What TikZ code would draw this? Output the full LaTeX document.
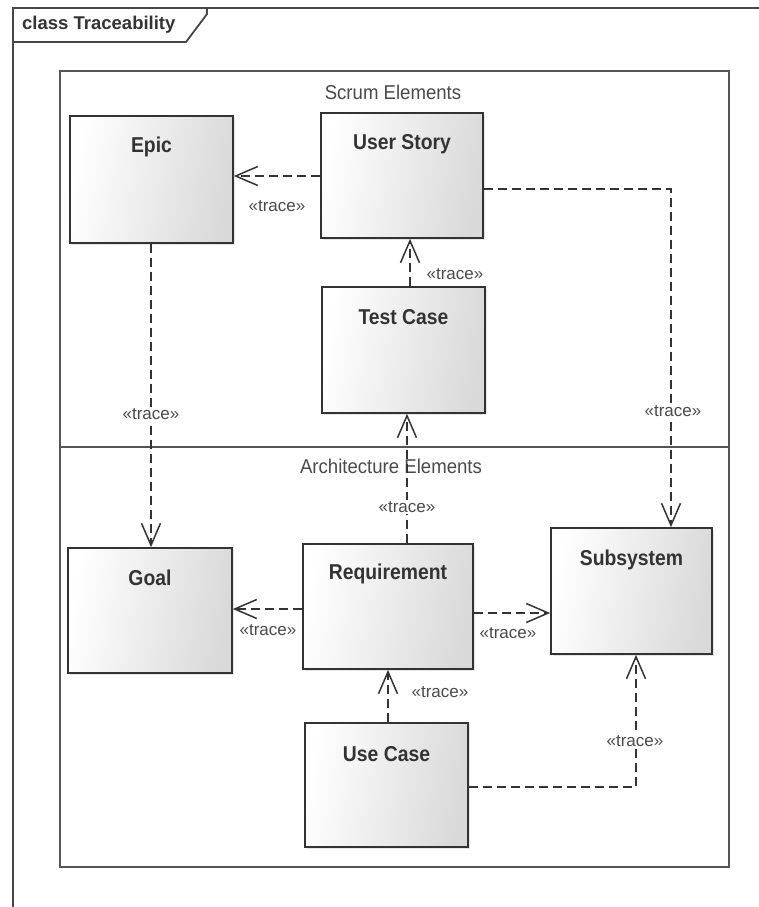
\documentclass[tikz,border=0pt]{standalone}
\usepackage{fontspec}
\setmainfont{Liberation Sans}
\newfontfamily\boxfont[FakeStretch=0.9]{Liberation Sans}
\newfontfamily\pkgfont[FakeStretch=0.93]{Liberation Sans}
\usetikzlibrary{arrows.meta,shadows}

\definecolor{edge}{HTML}{333333}
\definecolor{pkgedge}{HTML}{555555}
\definecolor{lbl}{HTML}{4A4A4A}

\tikzset{
  frameline/.style={draw=edge!90, line width=1.8pt},
  pkg/.style={draw=pkgedge, line width=1.5pt, anchor=north west, inner sep=0pt},
  pkglbl/.style={font=\pkgfont\fontsize{20}{22}\selectfont, text=lbl},
  classbox/.style={draw=edge, line width=1.7pt, left color=white, right color=black!15,
    shading angle=80,
    inner sep=0pt, drop shadow={shadow xshift=1.5pt, shadow yshift=-1.5pt, opacity=0.2}},
  boxlbl/.style={font=\boxfont\bfseries\fontsize{21.5}{24}\selectfont, text=edge},
  trace/.style={draw=edge, line width=1.6pt, dash pattern=on 9pt off 5pt,
    -{Straight Barb[length=22pt,width=19pt,line width=1.5pt]}},
  tracelbl/.style={font=\fontsize{17}{19}\selectfont, text=lbl, inner sep=1.5pt},
  onlinelbl/.style={tracelbl, fill=white}
}

\begin{document}
\begin{tikzpicture}[x=1pt,y=-1pt]
\useasboundingbox (0,0) rectangle (759,907);
\fill[white] (0,0) rectangle (759,907);

% diagram frame and its name tag
\draw[frameline] (759,8) -- (13,8) -- (13,907);
\draw[frameline] (207,8) -- (207,14) -- (186,42) -- (13,42);
\node[anchor=west, inner sep=0pt, font=\bfseries\fontsize{18.5}{20}\selectfont, text=edge]
  (title) at (22,25) {class Traceability};

% packages
\node[pkg, minimum width=669, minimum height=376] (scrum) at (59,70) {};
\node[pkg, minimum width=669, minimum height=420] (arch) at (59,446) {};
\node[pkglbl] (scrumlbl) at (393,92) {Scrum Elements};
\node[pkglbl] (archlbl) at (391,466) {Architecture Elements};

% classes
\node[classbox, minimum width=163, minimum height=127] (epic) at (151.5,179.5) {};
\node[classbox, minimum width=162, minimum height=125] (us)   at (402,175.5) {};
\node[classbox, minimum width=163, minimum height=126] (tc)   at (403.5,350) {};
\node[classbox, minimum width=164, minimum height=125] (goal) at (150,610.5) {};
\node[classbox, minimum width=170, minimum height=125] (req)  at (388,606.5) {};
\node[classbox, minimum width=161, minimum height=126] (sub)  at (631.5,591) {};
\node[classbox, minimum width=163, minimum height=124] (uc)   at (386.5,785) {};

\node[boxlbl] (epicT) at ([yshift=-32pt]epic.north) {Epic};
\node[boxlbl] (usT)   at ([yshift=-32pt]us.north)   {User Story};
\node[boxlbl] (tcT)   at ([yshift=-31pt]tc.north)   {Test Case};
\node[boxlbl] (goalT) at ([yshift=-31pt]goal.north) {Goal};
\node[boxlbl] (reqT)  at ([yshift=-31pt]req.north)  {Requirement};
\node[boxlbl] (subT)  at ([yshift=-33pt]sub.north)  {Subsystem};
\node[boxlbl] (ucT)   at ([yshift=-32pt]uc.north)   {Use Case};

% bend points of the routed traces
\coordinate (k1) at (671,189);
\coordinate (k2) at (636,787);

% trace dependencies
\draw[trace] ([yshift=-0.5pt]us.west) -- ([yshift=-0.5pt]us.west -| epic.east);
\draw[trace] ([xshift=6.5pt]tc.north) -- ([xshift=6.5pt]tc.north |- us.south);
\draw[trace] ([xshift=19pt]req.north) -- ([xshift=19pt]req.north |- tc.south);
\draw[trace] ([xshift=-0.5pt]epic.south) -- ([xshift=-0.5pt]epic.south |- goal.north);
\draw[trace] ([yshift=-2.5pt]req.west) -- ([yshift=-2.5pt]req.west -| goal.east);
\draw[trace] ([yshift=-6.5pt]req.east) -- ([yshift=-6.5pt]req.east -| sub.west);
\draw[trace] (us.east |- k1) -- (k1) -- (k1 |- sub.north);
\draw[trace] ([xshift=1.5pt]uc.north) -- ([xshift=1.5pt]uc.north |- req.south);
\draw[trace] (uc.east |- k2) -- (k2) -- (k2 |- sub.south);

% stereotype labels
\node[tracelbl]  (t1) at (277,206) {«trace»};
\node[tracelbl]  (t2) at (455,274) {«trace»};
\node[onlinelbl] (t3) at (407,507) {«trace»};
\node[onlinelbl] (t4) at (151,414) {«trace»};
\node[tracelbl]  (t5) at (268,630) {«trace»};
\node[tracelbl]  (t6) at (508,633) {«trace»};
\node[onlinelbl] (t7) at (673,411) {«trace»};
\node[tracelbl]  (t8) at (440,692) {«trace»};
\node[onlinelbl] (t9) at (635,741) {«trace»};
\end{tikzpicture}
\end{document}
